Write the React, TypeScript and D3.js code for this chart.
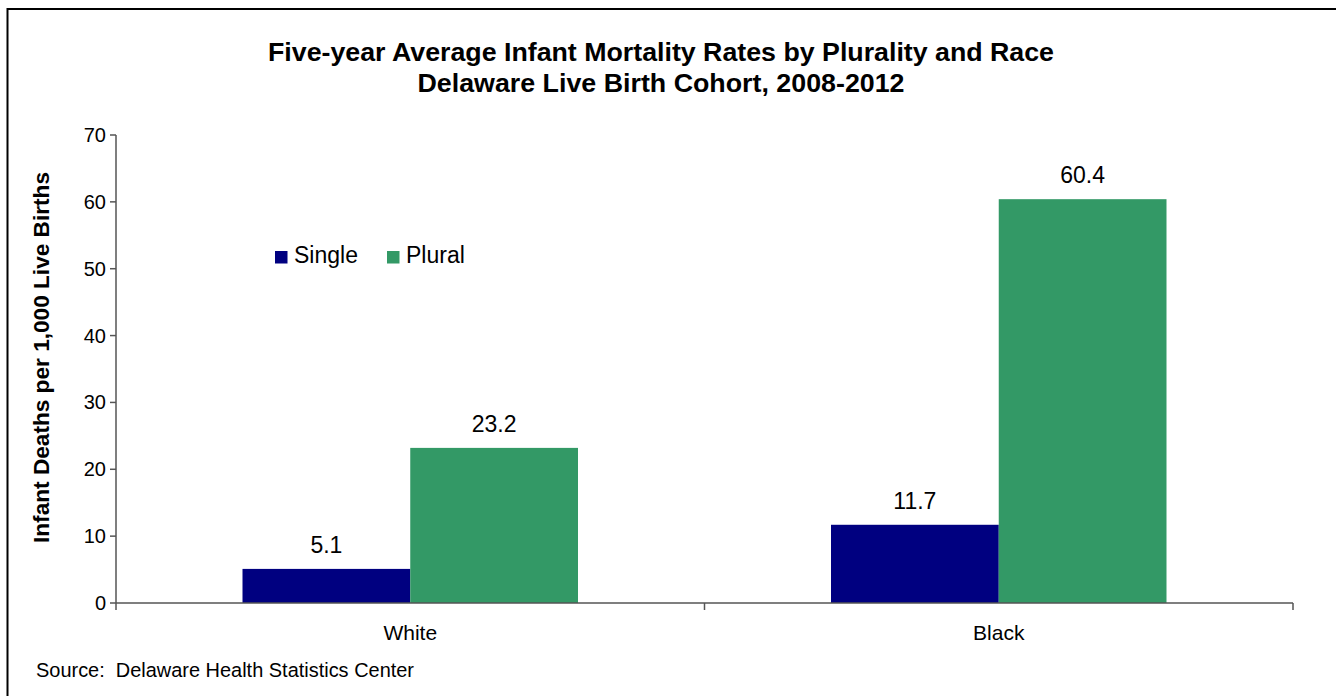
import React from "react";
import * as d3 from "d3";

const categories = ["White", "Black"];
const seriesNames = ["Single", "Plural"];
const singleValues = [5.1, 11.7];
const pluralValues = [23.2, 60.4];
const yTicks = [0, 10, 20, 30, 40, 50, 60, 70];
const colors = ["#000080", "#339966"];
const titleLines = [
  "Five-year Average Infant Mortality Rates by Plurality and Race",
  "Delaware Live Birth Cohort, 2008-2012",
];
const yTitle = "Infant Deaths per 1,000 Live Births";
const sourceText = "Source:  Delaware Health Statistics Center";

export default function App() {
  const W = 1336, H = 696;
  const left = 116, right = 1293, top = 135, bottom = 603;
  const font = "'Liberation Sans', Arial, sans-serif";
  const y = d3.scaleLinear().domain([0, 70]).range([bottom, top]);
  const x0 = d3.scaleBand().domain(categories).range([left, right]).paddingInner(0).paddingOuter(0);
  const groupPad = 126.5;
  const x1 = d3.scaleBand().domain(seriesNames).range([groupPad, x0.bandwidth() - groupPad]);
  const series = [singleValues, pluralValues];
  const titleLens = [786, 487];
  return (
    <svg width={W} height={H} style={{ position: "absolute", left: 0, top: 0 }} fontFamily={font}>
      <rect x={0} y={0} width={W} height={H} fill="#fff" />
      <rect x={7.5} y={9} width={W + 20} height={H + 20} fill="none" stroke="#000" strokeWidth={2} />
      {titleLines.map((t, i) => (
        <text key={i} x={661 - titleLens[i] / 2} y={61 + i * 31} fontSize={26} fontWeight="bold" fill="#000"
          textLength={titleLens[i]} lengthAdjust="spacingAndGlyphs">{t}</text>
      ))}
      {/* bars */}
      {categories.map((c, ci) =>
        seriesNames.map((s, si) => {
          const v = series[si][ci];
          const bx = (x0(c) as number) + (x1(s) as number);
          return (
            <g key={c + s}>
              <rect x={bx} y={y(v)} width={x1.bandwidth()} height={bottom - y(v)} fill={colors[si]} />
              <text x={bx + x1.bandwidth() / 2} y={y(v) - 16} textAnchor="middle" fontSize={23} fill="#000">{v.toFixed(1)}</text>
            </g>
          );
        })
      )}
      {/* y axis */}
      <line x1={left} x2={left} y1={top} y2={bottom} stroke="#555" strokeWidth={1.5} />
      {yTicks.map((t) => (
        <g key={t}>
          <line x1={left - 6} x2={left} y1={y(t)} y2={y(t)} stroke="#555" strokeWidth={1.5} />
          <text x={left - 10} y={y(t) + 7} textAnchor="end" fontSize={20} fill="#000">{t}</text>
        </g>
      ))}
      {/* x axis */}
      <line x1={left} x2={right} y1={bottom} y2={bottom} stroke="#555" strokeWidth={1.5} />
      {[left, ...categories.map((c) => (x0(c) as number) + x0.bandwidth())].map((xv, i) => (
        <line key={i} x1={xv} x2={xv} y1={bottom} y2={bottom + 7} stroke="#555" strokeWidth={1.5} />
      ))}
      {categories.map((c) => (
        <text key={c} x={(x0(c) as number) + x0.bandwidth() / 2} y={640} textAnchor="middle" fontSize={21} fill="#000">{c}</text>
      ))}
      <text transform={`translate(49,${357.5 + 371 / 2}) rotate(-90)`} fontSize={22.5} fontWeight="bold" fill="#000"
        textLength={371} lengthAdjust="spacingAndGlyphs">{yTitle}</text>
      {/* legend */}
      {seriesNames.map((s, i) => {
        const lx = [275, 387][i];
        return (
          <g key={s}>
            <rect x={lx} y={251} width={12.5} height={12.5} fill={colors[i]} />
            <text x={lx + 19} y={263} fontSize={23} fill="#000">{s}</text>
          </g>
        );
      })}
      <text x={36} y={677} fontSize={20.5} fill="#000" style={{ whiteSpace: "pre" }}
        textLength={378} lengthAdjust="spacingAndGlyphs">{sourceText}</text>
    </svg>
  );
}
